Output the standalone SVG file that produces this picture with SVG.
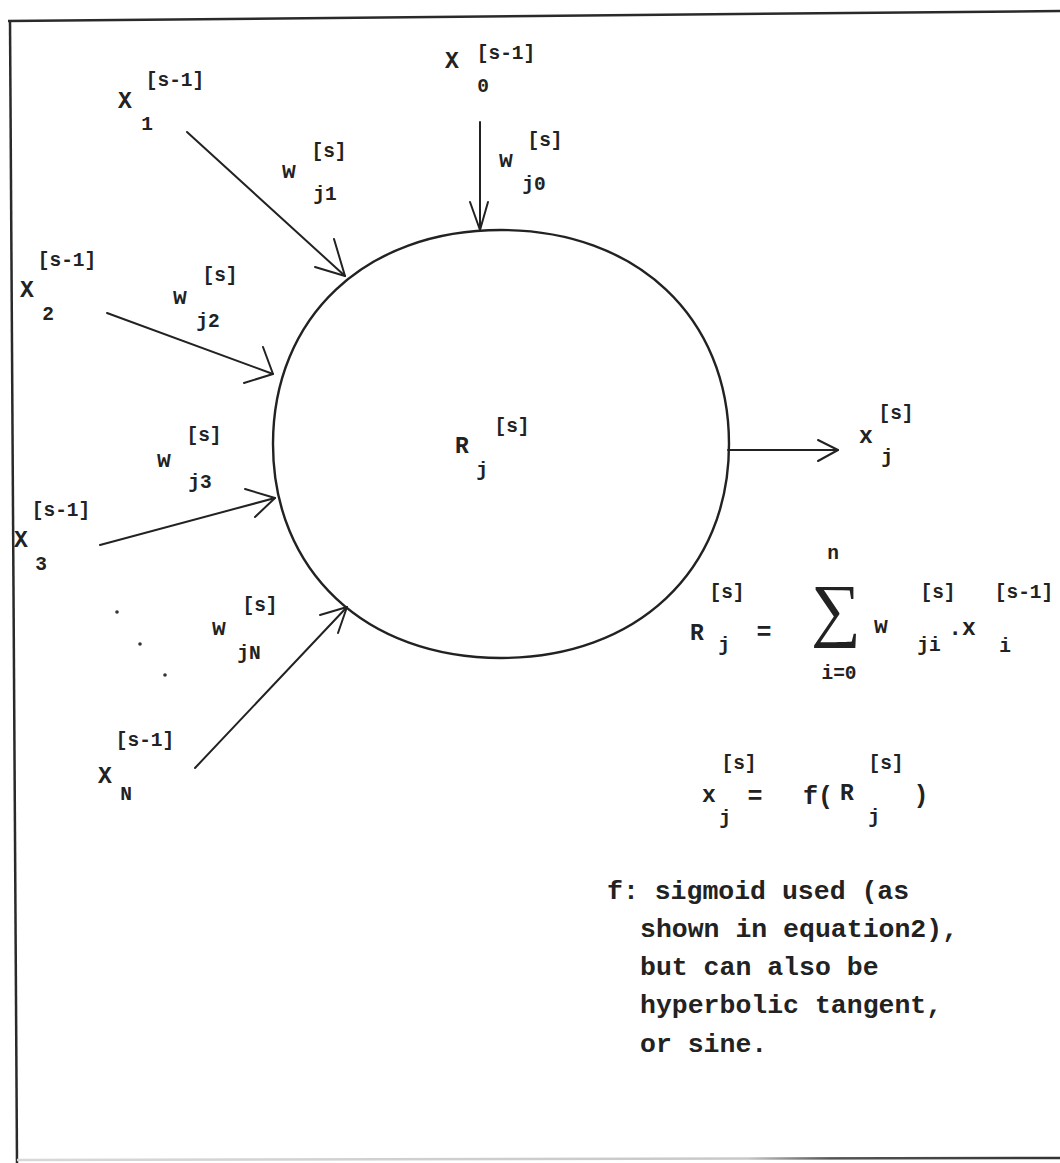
<svg xmlns="http://www.w3.org/2000/svg" width="1060" height="1163" viewBox="0 0 1060 1163">
<defs>
<linearGradient id="botGrad" x1="0" y1="0" x2="1" y2="0">
<stop offset="0" stop-color="#d8d8d8"/>
<stop offset="0.7" stop-color="#c8c8c8"/>
<stop offset="0.78" stop-color="#555"/>
<stop offset="1" stop-color="#333"/>
</linearGradient>
<style>
.frame{stroke:#2a2a2a;stroke-width:2.5;fill:none}
.edge{stroke:#222;stroke-width:2;fill:none;stroke-linecap:round}
.head{stroke:#222;stroke-width:2;fill:none;stroke-linecap:round;stroke-linejoin:round}
.cell{stroke:#222;stroke-width:2.4;fill:none}
.l{font-family:"Liberation Mono","DejaVu Sans Mono",monospace;font-weight:bold;font-size:19.5px;fill:#222;text-anchor:middle}
.b{font-family:"Liberation Mono","DejaVu Sans Mono",monospace;font-weight:bold;font-size:23px;fill:#222;text-anchor:middle}
.m{font-family:"Liberation Mono","DejaVu Sans Mono",monospace;font-weight:bold;font-size:25px;fill:#222;text-anchor:middle}
.t{font-family:"Liberation Mono","DejaVu Sans Mono",monospace;font-weight:bold;font-size:26.5px;fill:#222}
.sig{font-family:"Liberation Serif","DejaVu Serif",serif;font-size:70px;fill:#222;text-anchor:middle}
.dot{fill:#333}
</style>
</defs>
<rect width="1060" height="1163" fill="#ffffff"/>
<g id="frame">
<line class="frame" x1="8" y1="21" x2="1060" y2="11"/>
<line class="frame" x1="10" y1="20" x2="17" y2="1163"/>
<line x1="17" y1="1160" x2="1060" y2="1158" stroke="url(#botGrad)" stroke-width="2.5"/>
</g>
<g id="connectors">
<line class="edge" x1="480" y1="122" x2="480" y2="230"/>
<polyline class="head" points="470,202 480,230 488,202"/>
<line class="edge" x1="187" y1="132" x2="345" y2="276"/>
<polyline class="head" points="334,239 345,276 315,267"/>
<line class="edge" x1="107" y1="313" x2="273" y2="374"/>
<polyline class="head" points="263,347 273,374 244,383"/>
<line class="edge" x1="100" y1="545" x2="275" y2="498"/>
<polyline class="head" points="245,489 275,498 255,517"/>
<line class="edge" x1="195" y1="768" x2="347" y2="607"/>
<polyline class="head" points="320,615 347,607 338,633"/>
<line class="edge" x1="728" y1="450" x2="838" y2="450"/>
<polyline class="head" points="818,440 838,450 818,461"/>
</g>
<g id="neuron">
<path class="cell" d="M 729 444 C 729 571.1, 636.4 658, 501 658 C 365.6 658, 273 571.1, 273 444 C 273 316.9, 365.6 230, 501 230 C 636.4 230, 729 316.9, 729 444 Z"/>
<text class="b" x="462" y="453">R</text>
<text class="l" x="512" y="432">[s]</text>
<text class="l" x="482" y="476">j</text>
</g>
<g id="input-x0">
<text class="b" x="452" y="68">X</text>
<text class="l" x="506" y="59">[s-1]</text>
<text class="l" x="483" y="92">0</text>
</g>
<g id="weight-j0">
<text class="b" x="506" y="167">w</text>
<text class="l" x="545" y="146">[s]</text>
<text class="l" x="534" y="190">j0</text>
</g>
<g id="input-x1">
<text class="b" x="125" y="108">X</text>
<text class="l" x="175" y="86">[s-1]</text>
<text class="l" x="147" y="130">1</text>
</g>
<g id="weight-j1">
<text class="b" x="289" y="178">w</text>
<text class="l" x="329" y="157">[s]</text>
<text class="l" x="325" y="200">j1</text>
</g>
<g id="input-x2">
<text class="b" x="27" y="297">X</text>
<text class="l" x="67" y="266">[s-1]</text>
<text class="l" x="48" y="320">2</text>
</g>
<g id="weight-j2">
<text class="b" x="180" y="304">w</text>
<text class="l" x="220" y="281">[s]</text>
<text class="l" x="208" y="327">j2</text>
</g>
<g id="input-x3">
<text class="b" x="21" y="547">X</text>
<text class="l" x="61" y="516">[s-1]</text>
<text class="l" x="41" y="570">3</text>
</g>
<g id="weight-j3">
<text class="b" x="164" y="467">w</text>
<text class="l" x="204" y="441">[s]</text>
<text class="l" x="200" y="488">j3</text>
</g>
<g id="ellipsis">
<circle class="dot" cx="117" cy="612" r="1.8"/>
<circle class="dot" cx="140" cy="644" r="1.8"/>
<circle class="dot" cx="165" cy="675" r="1.8"/>
</g>
<g id="weight-jN">
<text class="b" x="219" y="635">w</text>
<text class="l" x="260" y="611">[s]</text>
<text class="l" x="249" y="659">jN</text>
</g>
<g id="input-xN">
<text class="b" x="105" y="783">X</text>
<text class="l" x="145" y="746">[s-1]</text>
<text class="l" x="126" y="800">N</text>
</g>
<g id="output-x">
<text class="b" x="866" y="443">x</text>
<text class="l" x="896" y="419">[s]</text>
<text class="l" x="887" y="463">j</text>
</g>
<g id="equation-sum">
<text class="b" x="697" y="640">R</text>
<text class="l" x="727" y="598">[s]</text>
<text class="l" x="724" y="651">j</text>
<text class="m" x="764" y="640">=</text>
<text class="l" x="833" y="559">n</text>
<text class="sig" x="836" y="633">∑</text>
<text class="l" x="839" y="679">i=0</text>
<text class="b" x="881" y="633">w</text>
<text class="l" x="938" y="598">[s]</text>
<text class="l" x="929" y="651">ji</text>
<text class="b" x="962" y="635">.x</text>
<text class="l" x="1024" y="598">[s-1]</text>
<text class="l" x="1005" y="652">i</text>
</g>
<g id="equation-activation">
<text class="b" x="709" y="802">x</text>
<text class="l" x="739" y="769">[s]</text>
<text class="l" x="725" y="824">j</text>
<text class="m" x="755" y="804">=</text>
<text class="m" x="818" y="804">f(</text>
<text class="b" x="847" y="800">R</text>
<text class="l" x="886" y="769">[s]</text>
<text class="l" x="874" y="823">j</text>
<text class="m" x="921" y="803">)</text>
</g>
<g id="note">
<text class="t" x="607" y="899">f: sigmoid used (as</text>
<text class="t" x="640" y="937">shown in equation2),</text>
<text class="t" x="640" y="975">but can also be</text>
<text class="t" x="640" y="1013">hyperbolic tangent,</text>
<text class="t" x="640" y="1052">or sine.</text>
</g>
</svg>
